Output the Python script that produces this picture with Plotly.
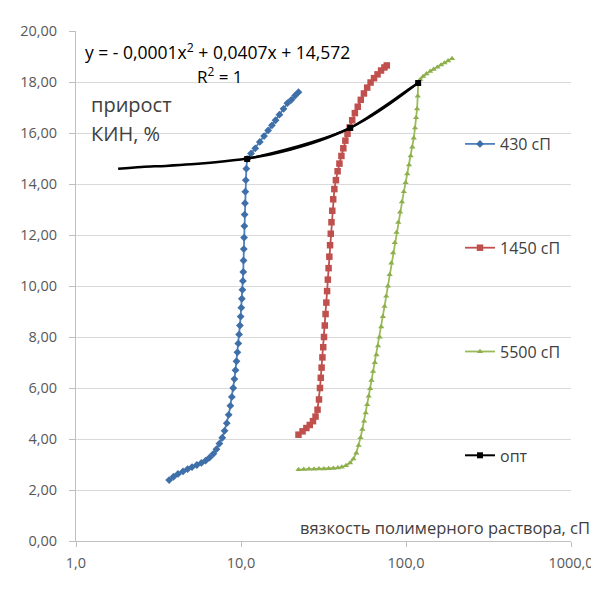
import plotly.graph_objects as go

# ---- data ----
x_430 = [3.67, 3.9, 4.15, 4.45, 4.75, 5.05, 5.4, 5.75, 6.1, 6.45, 6.8, 7.1, 7.4, 7.7, 7.95, 8.2,
         8.42, 8.62, 8.8, 8.97, 9.12, 9.26, 9.39, 9.51, 9.63, 9.74, 9.85, 9.95, 10.04, 10.12,
         10.2, 10.27, 10.32, 10.36, 10.4, 10.44, 10.48, 10.52, 10.57, 10.62, 10.69, 10.77, 10.88,
         11.5, 12.2, 13.0, 13.8, 14.6, 15.4, 16.2, 17.1, 18.1, 19.1, 20.2, 21.3, 22.3]
y_430 = [2.39, 2.52, 2.63, 2.73, 2.82, 2.9, 2.98, 3.06, 3.15, 3.27, 3.42, 3.6, 3.82, 4.05, 4.32, 4.62,
         4.95, 5.3, 5.65, 6.0, 6.35, 6.7, 7.05, 7.4, 7.75, 8.1, 8.45, 8.8, 9.15, 9.5,
         9.85, 10.2, 10.55, 11.0, 11.45, 11.9, 12.35, 12.8, 13.25, 13.7, 14.15, 14.6, 14.98,
         15.2, 15.4, 15.65, 15.88, 16.1, 16.3, 16.5, 16.72, 16.95, 17.17, 17.3, 17.47, 17.6]

x_1450 = [22.3, 23.6, 24.9, 26.1, 27.3, 28.3, 29.1, 29.7, 30.1, 30.45, 30.8, 31.15, 31.5, 31.85, 32.2,
          32.55, 32.9, 33.25, 33.6, 33.95, 34.3, 34.65, 35.0, 35.35, 35.75, 36.2, 36.8, 37.6, 38.5,
          39.5, 40.6, 41.7, 42.9, 44.2, 45.6, 47.2, 49.0, 51.0, 53.2, 55.6, 58.2, 61.0, 64.0, 67.2,
          70.6, 74.0, 76.5]
y_1450 = [4.17, 4.3, 4.43, 4.55, 4.7, 4.88, 5.15, 5.55, 6.0, 6.4, 6.8, 7.2, 7.6, 8.0, 8.45,
          8.9, 9.35, 9.8, 10.25, 10.7, 11.15, 11.6, 12.05, 12.5, 12.95, 13.4, 13.8, 14.15, 14.5,
          14.8, 15.1, 15.4, 15.7, 15.97, 16.22, 16.5, 16.78, 17.03, 17.3, 17.55, 17.78, 17.98, 18.15, 18.3,
          18.45, 18.57, 18.65]

x_5500 = [22.3, 24.0, 25.8, 27.7, 29.7, 31.8, 34.0, 36.3, 38.6, 40.8, 43.3, 45.8, 48.0, 50.0, 51.6,
          53.0, 54.4, 55.7, 57.0, 58.2, 59.4, 60.6, 61.8, 63.2, 64.7, 66.2, 67.7, 69.2, 70.8, 72.4,
          74.1, 75.9, 77.7, 79.6, 81.5, 83.5, 85.5, 87.6, 89.8, 92.1, 94.5, 97.0, 99.4, 101.8, 104.3,
          106.8, 109.2, 111.4, 113.4, 115.2, 116.7, 117.8, 118.5, 122, 127, 133, 140, 147, 155, 163,
          171, 180, 190]
y_5500 = [2.80, 2.81, 2.82, 2.82, 2.83, 2.83, 2.84, 2.85, 2.87, 2.90, 2.96, 3.06, 3.22, 3.45, 3.75,
          4.05, 4.38, 4.70, 5.02, 5.35, 5.68, 5.98, 6.3, 6.65, 7.0, 7.3, 7.65, 8.0, 8.4, 8.8,
          9.2, 9.6, 10.0, 10.45, 10.9, 11.3, 11.7, 12.1, 12.5, 12.9, 13.3, 13.7, 14.05, 14.4, 14.75,
          15.1, 15.45, 15.8, 16.2, 16.6, 16.95, 17.45, 17.95, 18.1, 18.22, 18.32, 18.42, 18.5, 18.58, 18.67,
          18.75, 18.83, 18.92]

x_opt = [10.9, 45.9, 118.5]
y_opt = [14.98, 16.2, 17.96]

# polynomial trendline of "опт" as drawn in the chart
x_trend = [1.8, 2.5, 3.5, 5, 7, 10.9, 15, 20, 30, 45.9, 60, 80, 100, 118.5]
y_trend = [14.6, 14.67, 14.71, 14.77, 14.85, 15.0, 15.16, 15.35, 15.7, 16.2, 16.65, 17.19, 17.64, 17.96]

x_tickvals = [1, 10, 100, 1000]
x_ticktext = ["1,0", "10,0", "100,0", "1000,0"]
y_tickvals = [0, 2, 4, 6, 8, 10, 12, 14, 16, 18, 20]
y_ticktext = ["0,00", "2,00", "4,00", "6,00", "8,00", "10,00", "12,00", "14,00", "16,00", "18,00", "20,00"]

FONT = "Open Sans"
fig = go.Figure()

fig.add_trace(go.Scatter(x=x_430, y=y_430, mode="lines+markers", name="430 сП", legendgroup="a",
                         line=dict(color="#4F81BD", width=1.8),
                         marker=dict(symbol="diamond", size=6, color="#3F6FA8")))
fig.add_trace(go.Scatter(x=x_1450, y=y_1450, mode="lines+markers", name="1450 сП", legendgroup="b",
                         line=dict(color="#C0504D", width=1.8),
                         marker=dict(symbol="square", size=6.5, color="#C0504D")))
fig.add_trace(go.Scatter(x=x_5500, y=y_5500, mode="lines+markers", name="5500 сП", legendgroup="c",
                         line=dict(color="#9BBB59", width=1.8),
                         marker=dict(symbol="triangle-up", size=5.5, color="#8DAF4C")))
fig.add_trace(go.Scatter(x=x_trend, y=y_trend, mode="lines", showlegend=False, hoverinfo="skip",
                         line=dict(color="#000000", width=2.5, shape="spline")))
fig.add_trace(go.Scatter(x=x_opt, y=y_opt, mode="lines+markers", name="опт", legendgroup="d",
                         line=dict(color="#000000", width=2, shape="spline"),
                         marker=dict(symbol="square", size=6, color="#000000")))

X0, X1, Y0, Y1 = 68, 563, 533, 23
W, H = X1 - X0, Y0 - Y1

def px(xp):
    return (xp - X0) / W

def py(yp):
    return (Y0 - yp) / H

fig.update_layout(
    width=599, height=599,
    margin=dict(l=X0, r=599 - X1, t=Y1, b=599 - Y0, pad=0),
    paper_bgcolor="white", plot_bgcolor="white",
    font=dict(family=FONT, color="#404040"),
    showlegend=True,
    legend=dict(x=px(452), y=py(119), xanchor="left", yanchor="top",
                bgcolor="rgba(0,0,0,0)", font=dict(size=16, color="#404040", family=FONT),
                tracegroupgap=80, itemwidth=30),
    xaxis=dict(type="log", range=[0, 3], tickvals=x_tickvals, ticktext=x_ticktext,
               showgrid=False, showline=True, linecolor="#BFBFBF", linewidth=1,
               ticks="outside", ticklen=5, tickcolor="#BFBFBF", ticklabelstandoff=4,
               tickfont=dict(size=14.5, color="#595959", family=FONT), zeroline=False),
    yaxis=dict(range=[0, 20], tickvals=y_tickvals, ticktext=y_ticktext,
               showgrid=True, gridcolor="#D9D9D9", gridwidth=1,
               showline=True, linecolor="#BFBFBF", linewidth=1,
               ticks="outside", ticklen=6, tickcolor="#BFBFBF", ticklabelstandoff=9,
               tickfont=dict(size=14.5, color="#595959", family=FONT), zeroline=False),
    shapes=[dict(type="rect", xref="paper", yref="paper", x0=px(443), x1=px(599), y0=py(505), y1=py(10),
                 fillcolor="white", line=dict(width=0), layer="between")],
    annotations=[
        dict(text="y = - 0,0001x<sup>2</sup> + 0,0407x + 14,572", xref="paper", yref="paper",
             x=px(75), y=py(44), xanchor="left", yanchor="middle", showarrow=False,
             font=dict(size=17.5, color="#000000", family=FONT)),
        dict(text="R<sup>2</sup> = 1", xref="paper", yref="paper",
             x=px(212), y=py(67), xanchor="center", yanchor="middle", showarrow=False,
             font=dict(size=17, color="#000000", family=FONT)),
        dict(text="прирост", xref="paper", yref="paper",
             x=px(81), y=py(96), xanchor="left", yanchor="middle", showarrow=False,
             font=dict(size=20, color="#404040", family=FONT)),
        dict(text="КИН, %", xref="paper", yref="paper",
             x=px(81), y=py(126), xanchor="left", yanchor="middle", showarrow=False,
             font=dict(size=20, color="#404040", family=FONT)),
        dict(text="вязкость полимерного раствора, сП", xref="paper", yref="paper",
             x=px(584), y=py(519), xanchor="right", yanchor="middle", showarrow=False,
             font=dict(size=16.5, color="#404040", family=FONT)),
    ],
)

fig.write_html("out.html")
